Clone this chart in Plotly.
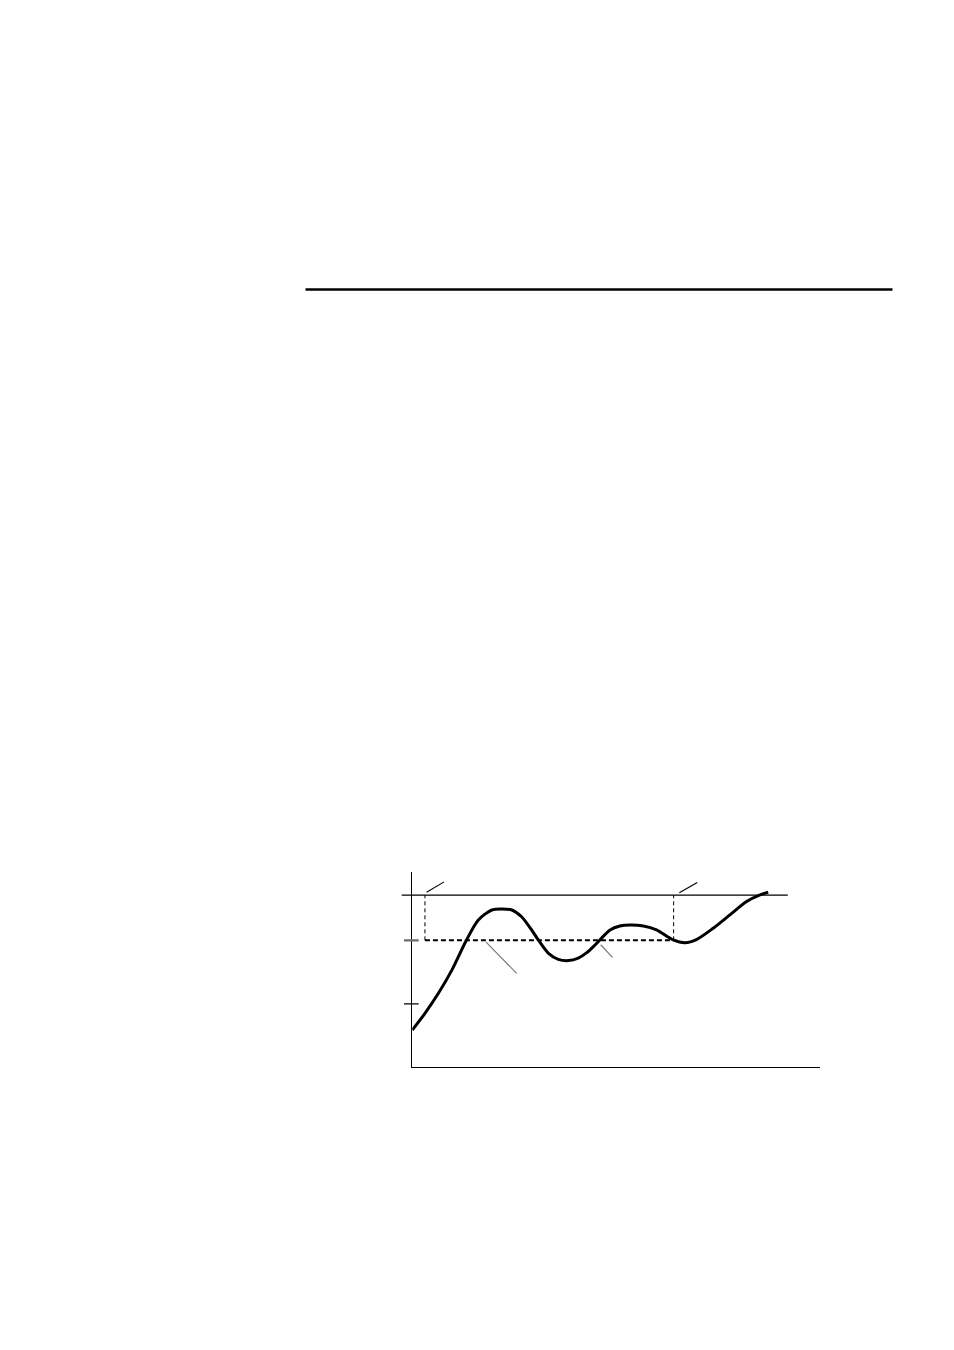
import plotly.graph_objects as go

# Step response (time in % of the window, value in setpoint units)
t = [0, 3.1, 6.4, 9.7, 13.3, 16.2, 19.5, 21.9, 24.4, 26.8, 29.3, 30.9, 33.4, 35.8,
     38.3, 40.7, 42.8, 44.8, 46.0, 48.5, 50.9, 53.4, 56.7, 59.9, 64.0, 66.9, 69.8,
     73.8, 77.9, 82.0, 85.3, 87.3]
value = [0.587, 0.85, 1.165, 1.53, 2.005, 2.32, 2.477, 2.493, 2.477, 2.37, 2.16, 2.005,
         1.795, 1.70, 1.68, 1.72, 1.805, 1.926, 2.005, 2.163, 2.225, 2.24, 2.225, 2.163,
         2.005, 1.962, 2.016, 2.19, 2.40, 2.61, 2.715, 2.756]

y_ticks = [1, 2]
setpoint = 2.0
upper = 2.71
window = [3.1, 64.1]          # start / end of the dashed window

# short pointer strokes: (x0, y0, x1, y1)
markers = [(3.5, 2.756, 7.8, 2.92), (65.5, 2.75, 69.9, 2.91)]
leaders = [(18.1, 1.97, 25.6, 1.48), (46.2, 1.93, 49.1, 1.73)]

# the page body has an 8px margin, so the figure starts at (8, 8)
OFF = 8
W, H = 954 - OFF, 1350 - OFF


def px_x(p):
    return (p - OFF) / W


def px_y(p):
    return 1 - (p - OFF) / H


fig = go.Figure()

fig.add_trace(go.Scatter(
    x=t, y=value,
    mode="lines",
    line=dict(color="black", width=3, shape="spline", smoothing=0.8),
    hoverinfo="skip",
))

shapes = []

# page rule at the top
shapes.append(dict(type="line", xref="paper", yref="paper",
                   x0=px_x(305.5), x1=px_x(892.5), y0=px_y(289.5), y1=px_y(289.5),
                   line=dict(color="black", width=2.6)))

# upper limit line, runs past the y axis on the left
shapes.append(dict(type="line", xref="x domain", yref="y",
                   x0=-0.026, x1=0.921, y0=upper, y1=upper,
                   line=dict(color="black", width=1.2)))

# dashed setpoint window
shapes.append(dict(type="line", xref="x", yref="y",
                   x0=window[0], x1=window[1], y0=setpoint, y1=setpoint,
                   line=dict(color="black", width=2, dash="5px,3px"), layer="below"))
for xw in window:
    shapes.append(dict(type="line", xref="x", yref="y",
                       x0=xw, x1=xw, y0=setpoint, y1=upper,
                       line=dict(color="black", width=1, dash="4px,3px"), layer="below"))

# y ticks crossing the axis
for yt in y_ticks:
    is_sp = yt == setpoint
    shapes.append(dict(type="line", xref="x domain", yref="y",
                       x0=-0.0204, x1=0.0157, y0=yt, y1=yt,
                       line=dict(color="#6e6e6e" if is_sp else "black",
                                 width=2.2 if is_sp else 1.2)))

for x0, y0, x1, y1 in markers:
    shapes.append(dict(type="line", xref="x", yref="y", x0=x0, y0=y0, x1=x1, y1=y1,
                       line=dict(color="black", width=1.1)))
for x0, y0, x1, y1 in leaders:
    shapes.append(dict(type="line", xref="x", yref="y", x0=x0, y0=y0, x1=x1, y1=y1,
                       line=dict(color="#7a7a7a", width=1.2)))

fig.update_layout(shapes=shapes)

fig.update_xaxes(
    domain=[px_x(412.3), px_x(820)],
    range=[0, 100],
    showline=True, linecolor="black", linewidth=1.3,
    showgrid=False, zeroline=False, showticklabels=False, ticks="",
)
fig.update_yaxes(
    domain=[px_y(1067.3), px_y(871.7)],
    range=[0, 3.08],
    showline=True, linecolor="black", linewidth=1.3,
    showgrid=False, zeroline=False, showticklabels=False, ticks="",
)

fig.update_layout(
    width=W, height=H,
    margin=dict(l=0, r=0, t=0, b=0),
    paper_bgcolor="white",
    plot_bgcolor="white",
    showlegend=False,
)

fig.write_html("out.html", config={"displayModeBar": False})
